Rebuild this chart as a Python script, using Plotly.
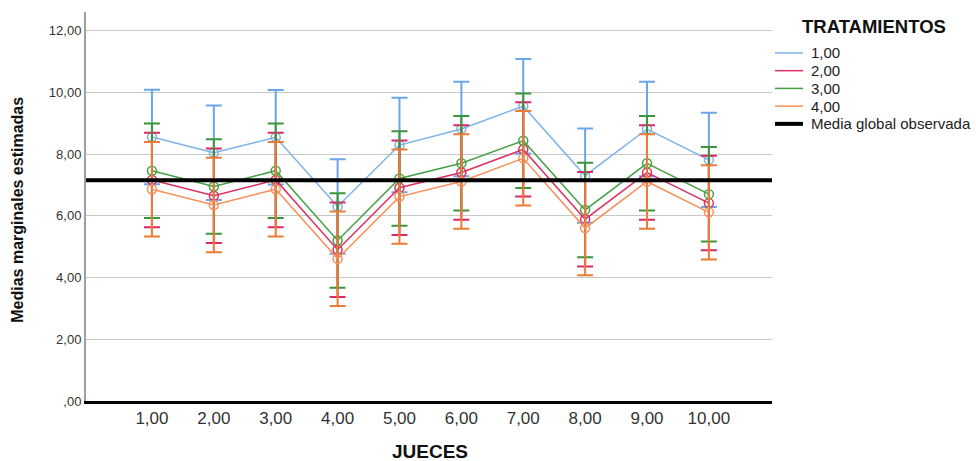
import plotly.graph_objects as go

# ---- data ----
jueces = [1, 2, 3, 4, 5, 6, 7, 8, 9, 10]
jueces_labels = ["1,00", "2,00", "3,00", "4,00", "5,00", "6,00", "7,00", "8,00", "9,00", "10,00"]
tratamientos = ["1,00", "2,00", "3,00", "4,00"]
t1 = [8.55, 8.04, 8.54, 6.30, 8.29, 8.81, 9.55, 7.30, 8.81, 7.81]
t2 = [7.16, 6.65, 7.16, 4.90, 6.91, 7.40, 8.15, 5.89, 7.40, 6.41]
t3 = [7.46, 6.95, 7.46, 5.20, 7.21, 7.70, 8.43, 6.19, 7.70, 6.70]
t4 = [6.86, 6.35, 6.86, 4.61, 6.62, 7.11, 7.86, 5.60, 7.11, 6.11]
ci_half = [1.53, 1.53, 1.53, 1.53]
media_global = 7.15
media_label = "Media global observada"
y_ticks = [0, 2, 4, 6, 8, 10, 12]
y_tick_labels = [",00", "2,00", "4,00", "6,00", "8,00", "10,00", "12,00"]

series = [t1, t2, t3, t4]
line_colors = ["#7cb2ea", "#dc2f63", "#45a045", "#f7905a"]
bar_colors = ["#6aa6ea", "#dc2a5e", "#3a963a", "#ee7a36"]

FONT = "Liberation Sans, Arial, sans-serif"

# plot-area geometry (pixels)
W, H = 976, 461
L, R, T, B = 86, 772, 12, 401.5
PW, PH = R - L, B - T


def px_x(px):
    return (px - L) / PW


def px_y(py):
    return (B - py) / PH


fig = go.Figure()

for name, vals, lc, bc, h in zip(tratamientos, series, line_colors, bar_colors, ci_half):
    fig.add_trace(go.Scatter(
        x=jueces, y=vals, mode="lines+markers", showlegend=False, name=name,
        line=dict(color=lc, width=1.5),
        marker=dict(symbol="circle-open", size=9, color=lc, line=dict(width=1.5, color=lc)),
        error_y=dict(type="constant", value=h, color=bc, thickness=2, width=8),
    ))

# global mean line across the whole plot area
fig.add_shape(type="line", xref="x domain", yref="y", x0=0, x1=1,
              y0=media_global, y1=media_global,
              line=dict(color="black", width=4), layer="above")

# ---- manual legend ----
legend_names = tratamientos + [media_label]
legend_colors = line_colors + ["black"]
legend_widths = [1.5, 1.5, 1.5, 1.5, 4]
annotations = [
    dict(text="<b>TRATAMIENTOS</b>", xref="paper", yref="paper",
         x=px_x(874), y=px_y(27), xanchor="center", yanchor="middle",
         showarrow=False, font=dict(size=18.5, color="#111", family=FONT)),
]
shapes = []
for i, (nm, c, w) in enumerate(zip(legend_names, legend_colors, legend_widths)):
    yy = px_y(53 + 17.75 * i)
    shapes.append(dict(type="line", xref="paper", yref="paper",
                       x0=px_x(775), x1=px_x(803), y0=yy, y1=yy,
                       line=dict(color=c, width=w)))
    annotations.append(dict(text=nm, xref="paper", yref="paper",
                            x=px_x(809), y=yy, xanchor="left", yanchor="middle",
                            showarrow=False, font=dict(size=15, color="#222", family=FONT)))

# axis titles
annotations.append(dict(text="<b>JUECES</b>", xref="paper", yref="paper",
                        x=px_x(430), y=px_y(452), xanchor="center", yanchor="middle",
                        showarrow=False, font=dict(size=19, color="#111", family=FONT)))
annotations.append(dict(text="<b>Medias marginales estimadas</b>", xref="paper", yref="paper",
                        x=px_x(18), y=px_y(210), xanchor="center", yanchor="middle",
                        textangle=-90, showarrow=False,
                        font=dict(size=16, color="#111", family=FONT)))

for s in shapes:
    fig.add_shape(**s)

fig.update_layout(
    width=W, height=H,
    margin=dict(l=L, r=W - R, t=T, b=H - B),
    paper_bgcolor="white", plot_bgcolor="white",
    font=dict(family=FONT, color="#222"),
    showlegend=False,
    annotations=annotations,
)

fig.update_xaxes(
    range=[-0.066, 11.02], tickvals=jueces, ticktext=jueces_labels,
    showgrid=False, zeroline=False, automargin=False,
    showline=True, linecolor="black", linewidth=3,
    ticks="", tickfont=dict(size=17, color="#333"),
)
fig.update_yaxes(
    range=[0, 12.6], tickvals=y_ticks, ticktext=y_tick_labels,
    showgrid=True, gridcolor="#c8c8c8", gridwidth=1, zeroline=False, automargin=False,
    showline=True, linecolor="#a0a0a0", linewidth=2,
    ticks="", tickfont=dict(size=13, color="#333"),
)

fig.write_html(
    "out.html",
    config={"displayModeBar": False, "staticPlot": True},
    post_script="document.body.style.margin='0';document.body.style.overflow='hidden';",
)
